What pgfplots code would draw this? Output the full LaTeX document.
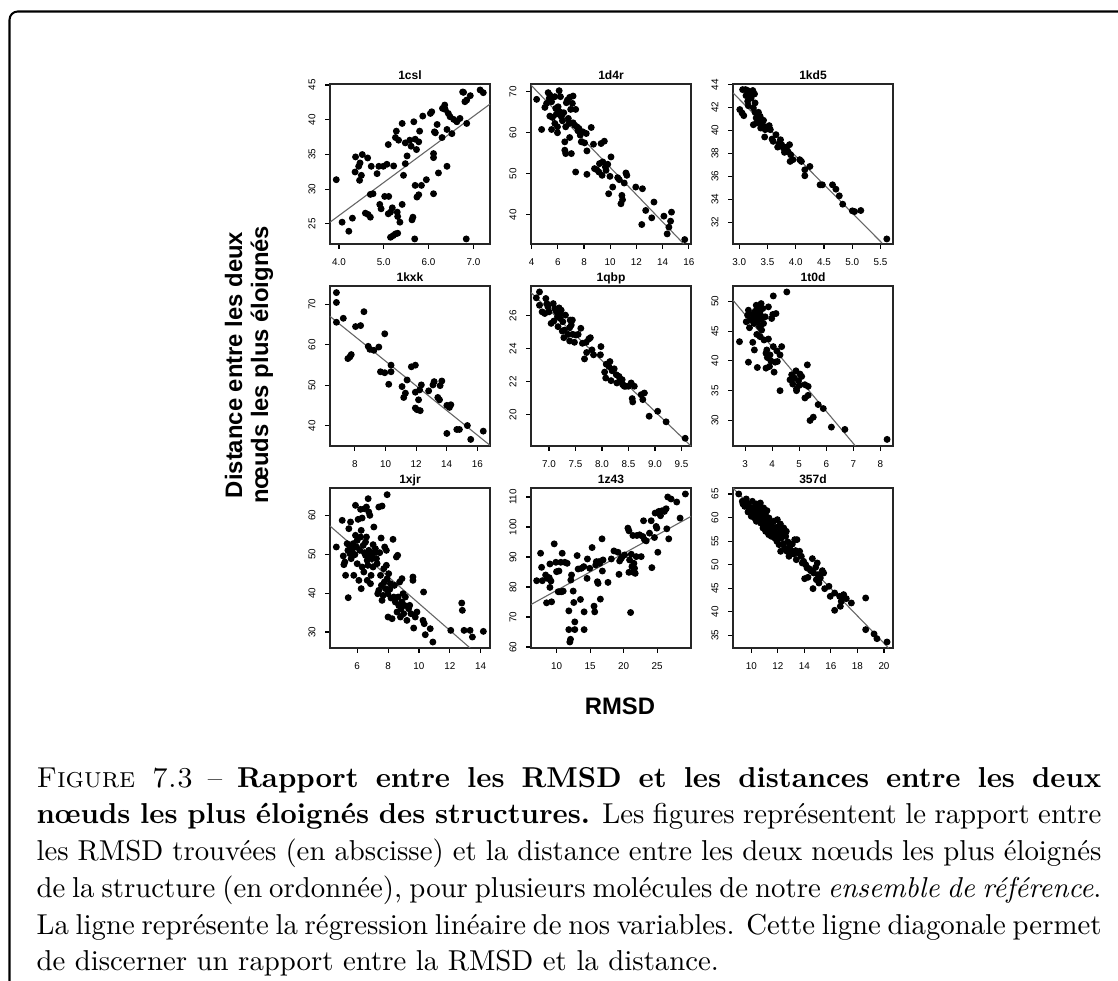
\documentclass[border=0pt]{standalone}
\usepackage{fontspec}
\usepackage{pgfplots}
\pgfplotsset{compat=1.18}
\newfontfamily\rfont{Liberation Sans}
\newcommand\tickfont{\rfont\fontsize{3.6pt}{4pt}\selectfont}
\newcommand\titlefont{\rfont\bfseries\fontsize{4.4pt}{5pt}\selectfont}
\pgfplotsset{
 rp/.style={
  width=58.4pt, height=58.4pt, scale only axis, anchor=north west,
  axis line style={line width=0.55pt, black!85},
  tick align=outside, xtick pos=left, ytick pos=left,
  major tick length=1.8pt,
  every tick/.style={line width=0.4pt, black},
  ticklabel style={font=\tickfont},
  yticklabel style={rotate=90, anchor=south},
  /pgf/number format/assume math mode=true,
  every axis title/.style={font=\titlefont, at={(0.5,1)}, anchor=base, yshift=1.6pt},
  clip=true,
 },
 pts/.style={only marks, mark=*, mark size=1.05pt, mark options={fill=black, draw=black}},
 reg/.style={no marks, line width=0.4pt, color=black!60},
}
\newcommand\cl[1]{\makebox[388.7pt][s]{#1}}
\begin{document}
\begin{tikzpicture}
\useasboundingbox (0,0) rectangle (408.07pt,-358.07pt);
\draw[line width=0.75pt, rounded corners=3pt] (3.47pt,-358.07pt) -- (3.47pt,-4.2pt) -- (408.07pt,-4.2pt);

% ---------- 1csl
\begin{axis}[rp, at={(120.45pt,-30.66pt)}, title={1csl},
  xmin=3.8, xmax=7.37, ymin=22.1, ymax=45.14,
  xtick={4,5,6,7}, xticklabels={4.0,5.0,6.0,7.0}, ytick={25,30,35,40,45}]
\addplot[pts] coordinates {
(3.94,31.36)(4.07,25.24)(4.22,23.94)(4.30,25.82)(4.37,34.64)(4.36,32.47)(4.44,33.29)(4.47,33.77)(4.46,31.27)(4.50,31.99)
(4.52,34.98)(4.64,34.49)(4.59,26.54)(4.65,26.35)(4.70,25.96)(4.72,33.29)(4.70,29.24)(4.76,29.34)(4.85,32.23)(4.89,33.29)
(4.91,27.80)(4.94,27.17)(4.99,33.29)(5.07,33.58)(5.02,28.95)(5.11,28.95)(5.10,26.45)(5.15,26.69)(5.15,23.07)(5.21,23.31)
(5.26,23.55)(5.31,23.65)(5.19,27.31)(5.22,33.34)(5.10,36.42)(5.26,37.43)(5.28,38.35)(5.33,37.05)(5.30,26.69)(5.31,26.06)
(5.36,25.24)(5.41,27.80)(5.41,39.46)(5.48,36.66)(5.44,31.99)(5.48,33.67)(5.52,34.78)(5.58,37.05)(5.61,36.18)(5.63,25.58)
(5.65,25.96)(5.67,39.70)(5.70,37.19)(5.69,22.83)(5.70,30.54)(5.73,35.70)(5.78,36.81)(5.74,28.86)(5.78,29.19)(5.80,38.35)
(5.84,30.54)(5.87,40.52)(5.95,31.36)(6.04,40.90)(6.07,41.14)(6.11,35.12)(6.11,34.54)(6.11,29.34)(6.13,38.25)(6.15,38.11)
(6.19,39.31)(6.22,32.33)(6.30,37.43)(6.31,41.63)(6.36,42.11)(6.37,41.48)(6.41,38.59)(6.41,33.29)(6.44,40.90)(6.48,40.42)
(6.52,37.99)(6.56,40.04)(6.63,39.70)(6.70,40.18)(6.76,43.99)(6.78,43.94)(6.81,42.59)(6.85,42.83)(6.85,39.46)(6.84,22.83)
(6.93,43.46)(7.15,44.28)(7.22,43.89)};
\addplot[reg] coordinates {(3.8,25.24)(7.37,42.25)};
\end{axis}

% ---------- 1d4r
\begin{axis}[rp, at={(193.82pt,-30.66pt)}, title={1d4r},
  xmin=3.95, xmax=16.17, ymin=32.9, ymax=71.87,
  xtick={4,6,8,10,12,14,16}, ytick={40,50,60,70}]
\addplot[pts] coordinates {
(4.38,68.13)(5.01,66.17)(4.76,60.79)(5.26,69.76)(5.39,69.18)(5.34,68.37)(5.52,67.55)(5.39,64.05)(5.59,63.72)(5.52,60.79)
(5.77,68.78)(5.84,65.93)(5.89,64.54)(5.97,60.00)(5.97,61.44)(6.10,70.24)(6.20,68.78)(6.15,65.11)(6.27,63.89)(6.35,62.91)
(6.45,64.87)(6.53,57.78)(6.53,55.74)(6.60,54.92)(6.65,67.31)(6.73,67.96)(6.80,63.48)(6.85,62.26)(6.90,68.61)(6.98,65.68)
(6.90,58.83)(7.03,54.92)(7.11,67.15)(7.16,68.94)(7.16,62.42)(7.28,61.85)(7.36,50.44)(7.46,61.44)(7.54,60.46)(7.61,61.04)
(7.71,59.41)(7.79,57.78)(7.91,60.22)(8.04,57.53)(8.17,59.81)(8.22,55.57)(8.22,49.87)(8.55,61.28)(8.72,57.20)(8.80,51.26)
(8.97,51.01)(9.13,50.44)(9.18,52.48)(9.30,57.37)(9.38,49.63)(9.43,52.89)(9.55,57.94)(9.63,51.66)(9.68,50.85)(9.81,52.32)
(9.88,45.14)(9.98,49.38)(10.06,54.11)(10.19,46.77)(10.57,49.05)(10.69,48.57)(10.82,42.70)(10.89,44.74)(10.94,43.68)(11.07,47.75)
(11.20,50.20)(11.27,49.63)(11.95,46.77)(12.46,46.36)(12.41,37.64)(12.71,41.07)(13.17,39.27)(13.34,43.11)(14.10,39.68)(14.35,35.36)
(14.48,37.00)(14.61,38.46)(14.68,40.66)(15.69,33.98)(5.14,67.15)(6.02,66.33)(5.77,62.26)(6.60,61.44)(7.36,65.68)};
\addplot[reg] coordinates {(3.95,71.6)(15.62,32.9)};
\end{axis}

% ---------- 1kd5
\begin{axis}[rp, at={(267.55pt,-30.66pt)}, title={1kd5},
  xmin=2.89, xmax=5.72, ymin=30.1, ymax=44.05,
  xtick={3,3.5,4,4.5,5,5.5}, xticklabels={3.0,3.5,4.0,4.5,5.0,5.5}, ytick={32,34,36,38,40,42,44}]
\addplot[pts] coordinates {
(3.01,41.82)(3.05,41.52)(3.08,41.29)(3.06,43.56)(3.11,43.56)(3.14,43.50)(3.12,43.04)(3.15,42.54)(3.16,42.16)(3.19,43.27)
(3.21,42.83)(3.24,43.48)(3.25,41.96)(3.27,43.18)(3.28,42.40)(3.28,41.58)(3.30,41.09)(3.25,40.50)(3.31,40.65)(3.34,41.58)
(3.36,40.80)(3.37,41.23)(3.38,40.21)(3.40,40.50)(3.43,40.88)(3.44,40.36)(3.46,40.07)(3.45,39.43)(3.53,40.42)(3.55,40.07)
(3.58,39.25)(3.60,39.05)(3.65,39.63)(3.68,38.55)(3.71,38.90)(3.73,39.19)(3.75,38.76)(3.78,38.47)(3.80,38.09)(3.84,38.55)
(3.86,38.17)(3.89,38.76)(3.91,37.88)(3.90,37.30)(3.95,37.45)(4.07,37.45)(4.10,37.30)(4.16,36.57)(4.16,36.05)(4.25,36.86)
(4.43,35.26)(4.47,35.26)(4.65,35.26)(4.71,34.88)(4.77,34.30)(4.83,33.57)(5.00,32.99)(5.04,32.93)(5.15,33.02)(5.61,30.54)};
\addplot[reg] coordinates {(2.89,43.27)(5.53,30.16)};
\end{axis}

% ---------- 1kxk
\begin{axis}[rp, at={(120.45pt,-104.39pt)}, title={1kxk},
  xmin=6.37, xmax=16.83, ymin=34.95, ymax=74.48,
  xtick={8,10,12,14,16}, ytick={40,50,60,70}]
\addplot[pts] coordinates {
(6.79,72.85)(6.79,70.41)(6.79,65.52)(7.24,66.50)(7.54,56.55)(7.67,56.96)(7.76,57.53)(8.04,64.46)(8.37,64.70)(8.59,68.13)
(8.87,59.57)(8.98,58.83)(9.24,58.59)(9.56,59.40)(9.67,53.29)(9.95,53.05)(9.95,62.67)(10.21,50.20)(10.36,54.92)(10.36,53.29)
(11.08,49.63)(11.19,46.94)(11.30,48.00)(11.41,51.26)(11.69,54.52)(11.95,54.92)(11.95,48.24)(11.95,44.33)(12.06,43.92)(12.16,46.36)
(12.23,48.81)(12.27,43.68)(12.34,50.04)(12.82,48.57)(13.10,50.04)(13.18,50.85)(13.42,46.94)(13.53,46.36)(13.57,49.87)(13.68,51.01)
(14.01,38.05)(14.01,44.98)(14.18,44.49)(14.27,45.14)(14.66,39.03)(14.83,39.03)(15.35,40.00)(15.57,36.58)(16.39,38.62)};
\addplot[reg] coordinates {(6.37,66.98)(16.83,35.12)};
\end{axis}

% ---------- 1qbp
\begin{axis}[rp, at={(193.82pt,-104.39pt)}, title={1qbp},
  xmin=6.66, xmax=9.68, ymin=18.09, ymax=27.81,
  xtick={7,7.5,8,8.5,9,9.5}, xticklabels={7.0,7.5,8.0,8.5,9.0,9.5}, ytick={20,22,24,26}]
\addplot[pts] coordinates {
(6.76,27.09)(6.82,27.45)(6.82,26.64)(6.87,26.24)(6.92,26.14)(6.94,27.05)(6.96,26.74)(6.98,26.54)(7.00,26.24)(7.04,25.54)
(7.08,26.74)(7.09,25.68)(7.11,26.44)(7.14,26.24)(7.16,25.94)(7.17,25.34)(7.19,26.48)(7.20,26.14)(7.21,25.84)(7.23,26.34)
(7.25,25.07)(7.26,25.64)(7.28,24.67)(7.29,25.13)(7.31,26.04)(7.36,24.87)(7.39,25.28)(7.39,24.47)(7.40,25.74)(7.42,25.44)
(7.44,25.74)(7.45,24.87)(7.48,24.39)(7.51,24.83)(7.55,24.87)(7.60,25.24)(7.63,24.33)(7.67,23.38)(7.70,24.39)(7.71,23.77)
(7.75,24.59)(7.78,24.67)(7.81,23.93)(7.84,23.63)(7.97,23.63)(7.98,24.13)(8.05,22.58)(8.07,22.22)(8.08,23.06)(8.13,22.92)
(8.15,23.22)(8.17,22.06)(8.19,22.66)(8.23,22.78)(8.27,22.42)(8.28,21.92)(8.32,22.32)(8.34,22.06)(8.38,22.12)(8.39,21.82)
(8.42,21.72)(8.45,21.72)(8.50,21.72)(8.55,21.92)(8.57,20.97)(8.58,20.77)(8.61,21.72)(8.74,21.21)(8.77,20.91)(8.80,21.31)
(8.89,19.90)(9.05,20.20)(9.21,19.56)(9.57,18.56)};
\addplot[reg] coordinates {(6.66,27.41)(9.68,18.09)};
\end{axis}

% ---------- 1t0d
\begin{axis}[rp, at={(267.55pt,-104.39pt)}, title={1t0d},
  xmin=2.55, xmax=8.47, ymin=25.72, ymax=52.56,
  xtick={3,4,5,6,7,8}, ytick={30,35,40,45,50}]
\addplot[pts] coordinates {
(2.79,43.22)(3.04,46.56)(3.09,47.67)(3.12,48.50)(3.12,39.78)(3.16,45.56)(3.18,46.83)(3.25,47.78)(3.28,43.11)(3.31,47.11)
(3.33,46.28)(3.34,41.83)(3.37,48.33)(3.41,49.33)(3.41,47.67)(3.43,44.44)(3.45,38.89)(3.47,46.67)(3.49,48.89)(3.53,45.72)
(3.55,47.94)(3.55,44.06)(3.58,47.11)(3.59,49.61)(3.61,45.17)(3.65,48.78)(3.68,46.28)(3.70,43.50)(3.74,47.39)(3.77,41.28)
(3.80,41.83)(3.77,38.78)(3.82,40.56)(3.86,49.06)(3.86,43.67)(3.90,39.06)(3.92,41.00)(3.95,40.00)(3.98,47.11)(4.02,47.78)
(4.04,50.89)(4.04,42.39)(4.07,38.11)(4.11,39.78)(4.14,47.94)(4.17,41.67)(4.19,39.89)(4.29,41.00)(4.35,42.39)(4.29,35.00)
(4.54,51.56)(4.66,36.83)(4.72,37.67)(4.76,36.11)(4.81,37.11)(4.88,38.33)(4.90,35.33)(4.97,36.67)(5.00,35.89)(5.03,37.78)
(5.09,37.39)(4.90,35.00)(5.21,36.00)(5.30,39.33)(5.21,33.78)(5.33,34.22)(5.33,35.72)(5.40,30.00)(5.52,30.56)(5.70,32.67)
(5.89,32.00)(6.19,28.89)(6.69,28.50)(8.25,26.83)};
\addplot[reg] coordinates {(2.55,50.17)(7.08,25.72)};
\end{axis}

% ---------- 1xjr
\begin{axis}[rp, at={(120.45pt,-178.12pt)}, title={1xjr},
  xmin=4.24, xmax=14.6, ymin=25.9, ymax=67.03,
  xtick={6,8,10,12,14}, ytick={30,40,50,60}]
\addplot[pts] coordinates {
(4.65,51.86)(5.03,58.71)(5.10,49.55)(5.14,47.32)(5.20,48.00)(5.25,44.58)(5.35,52.72)(5.40,51.00)(5.42,38.83)(5.46,56.57)
(5.53,50.15)(5.57,58.29)(5.61,48.86)(5.63,51.86)(5.68,50.75)(5.74,52.72)(5.78,44.58)(5.85,49.89)(5.89,62.57)(5.89,54.86)
(5.96,51.86)(6.00,47.57)(6.00,53.57)(6.06,58.97)(6.11,43.29)(6.17,51.00)(6.22,61.54)(6.22,54.43)(6.26,56.14)(6.26,41.15)
(6.32,46.72)(6.32,59.31)(6.39,52.29)(6.43,45.43)(6.47,50.40)(6.47,61.71)(6.54,53.14)(6.54,49.72)(6.60,54.43)(6.60,62.14)
(6.65,43.29)(6.65,48.43)(6.69,47.15)(6.71,64.28)(6.75,60.86)(6.75,51.00)(6.82,60.00)(6.86,49.72)(6.86,42.43)(6.90,44.58)
(6.92,50.15)(6.97,48.86)(7.03,52.46)(7.03,46.72)(7.08,57.00)(7.12,50.40)(7.18,51.43)(7.25,48.86)(7.29,47.57)(7.33,39.86)
(7.40,40.72)(7.40,62.14)(7.46,50.40)(7.51,44.58)(7.55,54.17)(7.57,42.00)(7.61,38.15)(7.61,62.40)(7.68,39.43)(7.72,46.29)
(7.76,42.86)(7.78,51.86)(7.83,41.15)(7.89,51.00)(7.89,47.15)(7.94,65.31)(7.94,43.72)(7.98,39.86)(8.00,33.86)(8.04,45.00)
(8.11,41.00)(8.15,42.43)(8.19,38.75)(8.26,33.43)(8.32,53.83)(8.37,39.00)(8.41,42.00)(8.47,37.72)(8.54,49.29)(8.58,35.15)
(8.62,49.72)(8.65,39.00)(8.69,36.86)(8.75,42.86)(8.80,33.86)(8.84,36.00)(8.90,43.72)(8.90,37.72)(8.97,39.86)(9.01,34.72)
(9.05,36.86)(9.12,39.00)(9.22,33.00)(9.33,36.00)(9.40,36.86)(9.48,34.72)(9.61,44.15)(9.61,43.29)(9.66,31.03)(9.76,33.86)
(9.87,35.15)(10.26,33.00)(10.30,40.29)(10.34,32.15)(10.41,29.32)(10.73,30.86)(10.90,27.43)(12.06,30.43)(12.77,37.46)(12.81,35.58)
(12.92,30.43)(13.31,30.43)(13.46,28.72)(14.17,30.17)};
\addplot[reg] coordinates {(4.24,57.26)(13.31,25.9)};
\end{axis}

% ---------- 1z43
\begin{axis}[rp, at={(193.82pt,-178.12pt)}, title={1z43},
  xmin=6.19, xmax=30.05, ymin=59.67, ymax=113.0,
  xtick={10,15,20,25}, ytick={60,70,80,90,100,110}]
\addplot[pts] coordinates {
(7.03,82.10)(7.62,91.25)(7.77,86.56)(7.87,82.10)(8.37,84.00)(8.51,74.73)(8.61,82.88)(8.91,83.10)(9.01,87.68)(9.01,79.87)
(9.16,81.99)(9.26,75.07)(9.65,94.38)(9.90,88.24)(10.00,85.11)(10.25,78.42)(10.35,85.33)(10.50,78.42)(10.64,88.24)(10.74,78.42)
(10.84,91.25)(10.99,78.64)(11.24,88.24)(11.58,87.90)(11.83,72.05)(11.83,65.80)(11.98,61.67)(12.08,62.57)(12.13,82.32)(12.23,84.00)
(12.48,78.64)(12.57,74.84)(12.72,68.37)(12.72,65.80)(13.07,90.47)(13.22,86.00)(13.56,75.85)(13.71,86.23)(14.06,86.79)(14.11,71.72)
(14.11,65.80)(14.55,82.88)(14.60,89.35)(14.95,86.23)(15.30,93.15)(15.59,73.62)(15.69,71.72)(15.84,87.34)(15.94,88.46)(16.09,81.76)
(16.19,81.20)(16.34,88.46)(16.44,87.90)(16.53,75.96)(16.78,96.05)(16.83,85.33)(16.93,89.02)(17.67,81.54)(18.17,89.35)(18.56,92.03)
(19.16,91.58)(19.31,84.22)(19.41,88.68)(19.65,89.58)(19.80,90.13)(20.15,90.69)(20.64,99.62)(20.79,98.73)(20.79,84.89)(20.89,89.02)
(21.04,71.50)(21.14,90.92)(21.24,86.79)(21.39,97.17)(21.49,84.89)(21.53,87.90)(21.63,86.23)(21.73,84.55)(21.88,90.13)(21.98,97.17)
(22.38,97.39)(22.62,90.13)(22.87,96.83)(22.97,102.08)(23.12,95.71)(23.37,95.38)(23.86,97.95)(24.11,102.08)(24.21,86.45)(24.60,96.50)
(24.70,104.64)(24.85,100.18)(24.95,99.62)(25.10,91.58)(25.25,105.20)(25.50,103.75)(25.74,105.43)(26.09,105.20)(26.34,106.09)(26.44,99.40)
(26.73,96.05)(26.58,110.00)(27.08,109.33)(27.92,108.33)(28.42,102.97)(29.21,111.00)};
\addplot[reg] coordinates {(6.19,74.17)(30.05,103.53)};
\end{axis}

% ---------- 357d
\begin{axis}[rp, at={(267.55pt,-178.12pt)}, title={357d},
  xmin=8.62, xmax=20.68, ymin=32.3, ymax=66.27,
  xtick={10,12,14,16,18,20}, ytick={35,40,45,50,55,60,65}]
\addplot[pts] coordinates {
(9.05,65.00)(9.32,63.44)(9.37,62.88)(9.50,62.38)(9.62,63.94)(9.70,62.88)(9.75,61.18)(9.82,62.38)(10.00,60.26)(10.08,63.44)
(10.13,61.46)(10.20,62.17)(10.25,59.90)(10.33,60.61)(10.38,59.20)(10.38,62.88)(10.45,61.32)(10.50,62.17)(10.58,59.90)(10.63,60.61)
(10.68,63.09)(10.70,58.84)(10.75,61.32)(10.83,59.90)(10.88,57.78)(10.93,62.03)(11.01,58.84)(11.06,60.75)(11.08,57.07)(11.13,59.55)
(11.18,61.46)(11.26,58.14)(11.31,56.37)(11.33,59.90)(11.38,57.43)(11.43,58.84)(11.51,56.01)(11.56,58.14)(11.63,57.07)(11.68,59.20)
(11.76,55.66)(11.81,56.72)(11.88,57.92)(11.93,54.95)(11.96,59.55)(12.01,56.37)(12.09,54.24)(12.14,57.43)(12.19,58.63)(12.21,52.83)
(12.26,55.66)(12.34,56.72)(12.39,54.38)(12.44,57.78)(12.51,53.54)(12.59,56.01)(12.64,57.07)(12.69,52.83)(12.76,54.81)(12.84,51.77)
(12.89,53.68)(13.02,52.83)(13.09,54.38)(13.19,52.26)(13.27,55.30)(13.34,52.97)(13.39,51.06)(13.44,55.30)(13.52,52.47)(13.64,52.83)
(13.77,51.77)(13.84,50.35)(13.94,50.70)(14.02,47.02)(14.10,49.99)(14.20,49.29)(14.27,47.31)(14.35,49.15)(14.47,48.72)(14.60,51.27)
(14.65,44.90)(14.70,48.23)(14.85,49.43)(14.90,46.81)(14.97,50.35)(15.03,47.87)(15.10,46.10)(15.20,47.17)(15.35,48.72)(15.45,48.23)
(15.53,44.90)(15.85,45.40)(15.95,43.27)(16.28,43.98)(16.28,40.30)(16.66,43.27)(16.71,41.15)(16.78,42.21)(16.86,43.06)(16.96,43.63)
(17.16,42.78)(17.54,41.86)(18.62,42.92)(18.62,36.20)(19.25,35.28)(19.47,34.28)(20.23,33.58)};
\addplot[reg] coordinates {(8.62,66.27)(20.35,32.3)};
\end{axis}

% axis titles
\node[rotate=90, align=center, font=\rfont\bfseries\fontsize{8.7pt}{9.5pt}\selectfont] at (90.9pt,-133.2pt)
  {Distance entre les deux\\nœuds les plus éloignés};
\node[font=\rfont\bfseries\fontsize{8.7pt}{9.5pt}\selectfont] at (226.3pt,-257.7pt) {RMSD};

% caption
\node[anchor=north west, inner sep=0pt, align=left,
  font=\fontsize{10.5pt}{13.4pt}\selectfont] at (13.14pt,-279.8pt) {%
\cl{\textsc{Figure 7.3} -- \textbf{Rapport entre les RMSD et les distances entre les deux}}\\
\cl{\textbf{nœuds les plus éloignés des structures.} Les figures représentent le rapport entre}\\
\cl{les RMSD trouvées (en abscisse) et la distance entre les deux nœuds les plus éloignés}\\
\cl{de la structure (en ordonnée), pour plusieurs molécules de notre \textit{ensemble de référence}.}\\
\cl{La ligne représente la régression linéaire de nos variables. Cette ligne diagonale permet}\\
de discerner un rapport entre la RMSD et la distance.};
\end{tikzpicture}
\end{document}
